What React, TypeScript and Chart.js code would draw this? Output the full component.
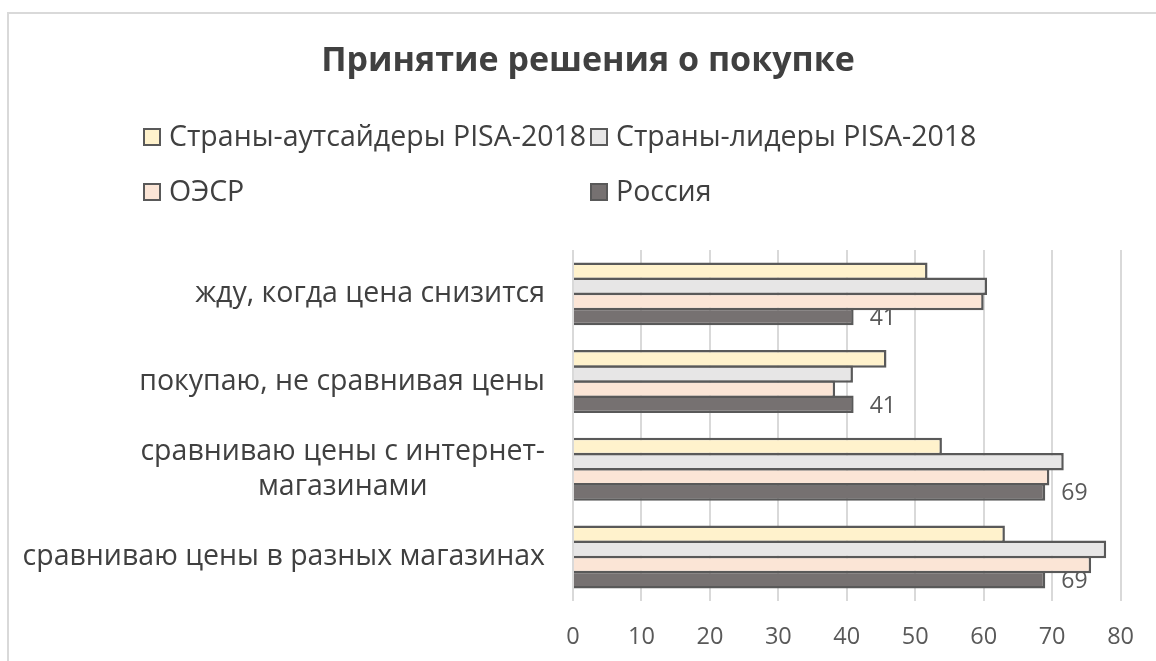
import React, { useEffect, useRef } from "react";
import { Chart, registerables } from "chart.js";

Chart.register(...registerables);

const chartTitle = "Принятие решения о покупке";
const categories: string[][] = [
  ["жду, когда цена снизится"],
  ["покупаю, не сравнивая цены"],
  ["сравниваю цены с интернет-", "магазинами"],
  ["сравниваю цены в разных магазинах"],
];
const seriesNames = ["Страны-аутсайдеры PISA-2018", "Страны-лидеры PISA-2018", "ОЭСР", "Россия"];
const outsiders = [51.8, 45.8, 53.9, 63.1];
const leaders = [60.5, 40.9, 71.7, 77.9];
const oecd = [60.0, 38.3, 69.6, 75.7];
const russia = [41, 41, 69, 69];
const xMin = 0;
const xMax = 80;
const xStep = 10;

const fills = ["#FFF2CC", "#E7E6E6", "#FBE5D6", "#767171"];
const BORDER = "#595959";
const FONT = "'Open Sans', 'Noto Sans', sans-serif";
const W = 1156;
const H = 661;

const decorPlugin = {
  id: "decor",
  beforeDraw(chart: any) {
    const ctx = chart.ctx;
    ctx.save();
    ctx.fillStyle = "#ffffff";
    ctx.fillRect(0, 0, chart.width, chart.height);
    ctx.strokeStyle = "#D9D9D9";
    ctx.lineWidth = 2;
    ctx.strokeRect(8, 13, 3000, 3000);
    ctx.restore();
  },
  afterDraw(chart: any) {
    const ctx = chart.ctx;
    ctx.save();
    // title
    ctx.fillStyle = "#404040";
    ctx.font = `bold 34px ${FONT}`;
    ctx.textAlign = "center";
    ctx.textBaseline = "middle";
    ctx.fillText(chartTitle, 588, 61);

    // legend
    const pos = [
      [144, 137],
      [591, 137],
      [144, 192],
      [591, 192],
    ];
    ctx.font = `28.5px ${FONT}`;
    ctx.textAlign = "left";
    seriesNames.forEach((name, i) => {
      const [x, y] = pos[i];
      ctx.fillStyle = fills[i];
      ctx.fillRect(x, y - 8, 16, 16);
      ctx.strokeStyle = BORDER;
      ctx.lineWidth = 2;
      ctx.strokeRect(x, y - 8, 16, 16);
      ctx.fillStyle = "#404040";
      ctx.fillText(name, x + 25, y + 1);
    });

    // category labels
    const yScale = chart.scales.y;
    const right = 545;
    const lh = 35;
    categories.forEach((lines, i) => {
      const cy = yScale.getPixelForValue(i);
      const widths = lines.map((l) => ctx.measureText(l).width);
      const maxW = Math.max(...widths);
      const cx = right - maxW / 2;
      ctx.textAlign = "center";
      ctx.fillStyle = "#404040";
      lines.forEach((l, j) => {
        const ly = cy + (j - (lines.length - 1) / 2) * lh;
        ctx.fillText(l, cx, ly);
      });
    });

    // data labels for Russia
    const meta = chart.getDatasetMeta(3);
    ctx.font = `23px ${FONT}`;
    ctx.fillStyle = "#595959";
    ctx.textAlign = "left";
    meta.data.forEach((bar: any, i: number) => {
      ctx.fillText(String(Math.round(russia[i])), bar.x + 16, bar.y + 2);
    });
    ctx.restore();
  },
};

export default function App() {
  const ref = useRef<HTMLCanvasElement>(null);
  useEffect(() => {
    if (!ref.current) return;
    const series = [outsiders, leaders, oecd, russia];
    const chart = new Chart(ref.current, {
      type: "bar",
      data: {
        labels: categories.map((c) => c.join(" ")),
        datasets: series.map((d, i) => ({
          label: seriesNames[i],
          data: d,
          backgroundColor: fills[i],
          borderColor: BORDER,
          borderWidth: 2.5,
          barPercentage: 1.16,
          categoryPercentage: 0.69,
        })),
      },
      options: {
        indexAxis: "y",
        animation: false,
        responsive: false,
        maintainAspectRatio: false,
        devicePixelRatio: 1,
        layout: { padding: { left: 573, right: 34, top: 250, bottom: -12 } },
        plugins: {
          legend: { display: false },
          title: { display: false },
          tooltip: { enabled: false },
        },
        scales: {
          x: {
            min: xMin,
            max: xMax,
            ticks: {
              stepSize: xStep,
              color: "#595959",
              font: { family: FONT, size: 23.5 },
              padding: 22,
            },
            grid: { color: "#D9D9D9", lineWidth: 2, drawTicks: false },
            border: { display: false },
          },
          y: {
            display: false,
          },
        },
      },
      plugins: [decorPlugin],
    });
    return () => chart.destroy();
  }, []);
  return (
    <div style={{ position: "fixed", left: 0, top: 0, width: W, height: H, background: "#fff" }}>
      <canvas ref={ref} width={W} height={H} style={{ display: "block", width: W, height: H }} />
    </div>
  );
}
